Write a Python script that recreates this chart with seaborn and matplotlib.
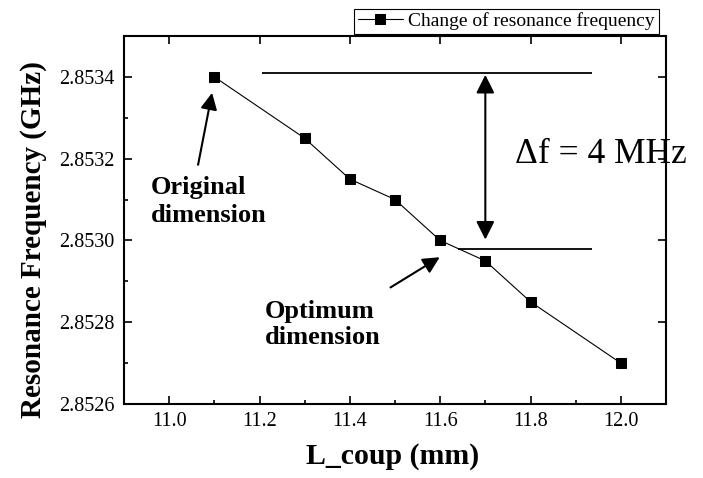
import matplotlib
matplotlib.use("Agg")
import matplotlib.pyplot as plt
from matplotlib.ticker import MultipleLocator, StrMethodFormatter
import seaborn as sns
import pandas as pd

# Measured resonance frequency versus coupling length
L_coup = [11.1, 11.3, 11.4, 11.5, 11.6, 11.7, 11.8, 12.0]
freq_ghz = [2.8534, 2.85325, 2.85315, 2.8531, 2.8530, 2.85295, 2.85285, 2.8527]
series_label = "Change of resonance frequency"

# Reference levels bracketing the frequency shift
level_y = [2.85341, 2.85298]
level_xmin = [11.206, 11.639]
level_xmax = [11.936, 11.936]
delta_text = "\u0394f = 4 MHz"

df = pd.DataFrame({"L_coup": L_coup, "freq": freq_ghz})

sns.set_theme(style="ticks")
plt.rcParams["font.family"] = ["Liberation Serif", "DejaVu Serif"]
plt.rcParams.update({
    "text.color": "black",
    "axes.labelcolor": "black",
    "xtick.color": "black",
    "ytick.color": "black",
    "axes.edgecolor": "black",
})

fig = plt.figure(figsize=(7.03, 4.78), dpi=100)
ax = fig.add_axes([124 / 703, 74 / 478, 542 / 703, 368 / 478])

sns.lineplot(data=df, x="L_coup", y="freq", ax=ax, color="black",
             marker="s", markersize=6.5, markeredgecolor="black",
             linewidth=0.8, label=series_label)

ax.set_xlim(10.9, 12.1)
ax.set_ylim(2.8526, 2.8535)
ax.xaxis.set_major_locator(MultipleLocator(0.2))
ax.xaxis.set_minor_locator(MultipleLocator(0.1))
ax.yaxis.set_major_locator(MultipleLocator(0.0002))
ax.yaxis.set_minor_locator(MultipleLocator(0.0001))
ax.xaxis.set_major_formatter(StrMethodFormatter("{x:.1f}"))
ax.yaxis.set_major_formatter(StrMethodFormatter("{x:.4f}"))

for s in ax.spines.values():
    s.set_visible(True)
    s.set_linewidth(1.5)
    s.set_color("black")

ax.tick_params(which="both", direction="in", colors="black", width=1.2,
               top=True, right=True, labelsize=14.5)
ax.tick_params(which="major", length=5.5)
ax.tick_params(which="minor", length=3, top=False, right=False)
ax.tick_params(axis="x", pad=6)
ax.tick_params(axis="y", pad=7)

ax.set_xlabel("L_coup (mm)", fontsize=21.5, fontweight="bold")
ax.set_ylabel("Resonance Frequency (GHz)", fontsize=21, fontweight="bold")
ax.xaxis.set_label_coords(0.496, -0.105)
ax.yaxis.set_label_coords(-0.142, 0.448)

# Bracket lines and the double-headed arrow marking the shift
ax.hlines(level_y, level_xmin, level_xmax, colors="black", linewidth=1.3)
ax.annotate("", xy=(11.70, 2.853405), xytext=(11.70, 2.853002),
            arrowprops=dict(arrowstyle="<|-|>,head_length=1.1,head_width=0.55",
                            color="black", lw=1.5, shrinkA=0, shrinkB=0,
                            mutation_scale=10))
ax.text(11.765, 2.853190, delta_text, fontsize=25.5, ha="left", va="baseline",
        clip_on=False, zorder=2)

# Callouts for the two dimensions (anchored on the second line's baseline)
ax.annotate("", xy=(11.095, 2.853361), xytext=(11.064, 2.853185),
            arrowprops=dict(arrowstyle="-|>,head_length=1.0,head_width=0.5",
                            color="black", lw=1.5, shrinkA=0, shrinkB=0,
                            mutation_scale=10))
ax.text(10.960, 2.853044, "Original\ndimension", fontsize=19,
        fontweight="bold", ha="left", va="baseline", linespacing=1.3)

ax.annotate("", xy=(11.599, 2.852959), xytext=(11.49, 2.852885),
            arrowprops=dict(arrowstyle="-|>,head_length=1.0,head_width=0.5",
                            color="black", lw=1.5, shrinkA=0, shrinkB=0,
                            mutation_scale=10))
ax.text(11.211, 2.852746, "Optimum\ndimension", fontsize=19,
        fontweight="bold", ha="left", va="baseline", linespacing=1.2)

leg = ax.legend(loc="lower right", bbox_to_anchor=(0.987, 1.005),
                frameon=True, fancybox=False, edgecolor="black",
                framealpha=1, borderpad=0.2, handlelength=2.3,
                handletextpad=0.3, fontsize=14, borderaxespad=0)
leg.get_frame().set_linewidth(0.8)

fig.savefig("out.png", dpi=100)
